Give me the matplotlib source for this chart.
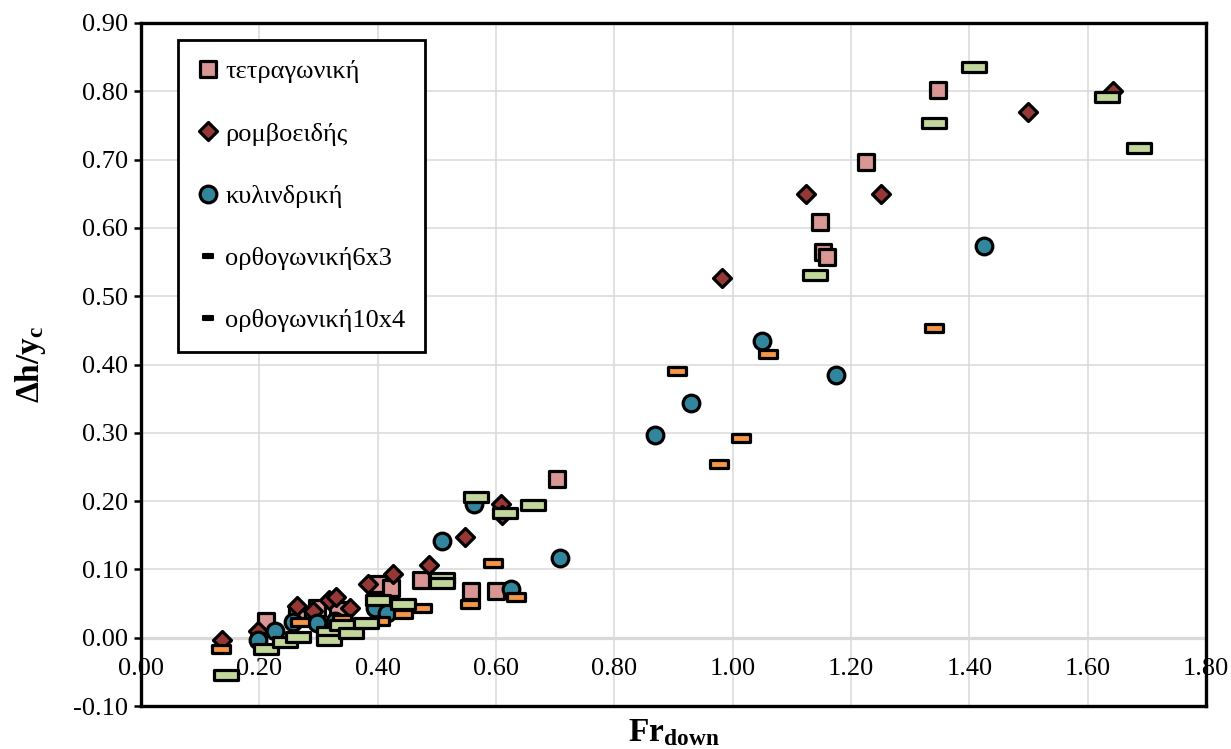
import matplotlib.pyplot as plt
import numpy as np
from matplotlib.path import Path
from matplotlib.markers import MarkerStyle
from matplotlib.lines import Line2D

plt.rcParams["font.family"] = ["Liberation Serif", "DejaVu Serif"]
plt.rcParams["mathtext.fontset"] = "custom"
plt.rcParams["mathtext.rm"] = "Liberation Serif"
plt.rcParams["mathtext.it"] = "Liberation Serif:italic"
plt.rcParams["mathtext.bf"] = "Liberation Serif:bold"

# Fr_down / dh/yc for each pier shape
fr_tetr = [0.212, 0.263, 0.297, 0.333, 0.401, 0.423, 0.473, 0.558, 0.600, 0.703,
           1.148, 1.153, 1.160, 1.225, 1.347]
dh_tetr = [0.024, 0.035, 0.044, 0.040, 0.079, 0.073, 0.084, 0.068, 0.068, 0.233,
           0.609, 0.565, 0.558, 0.697, 0.802]

fr_romv = [0.137, 0.198, 0.263, 0.290, 0.318, 0.330, 0.354, 0.383, 0.426, 0.486,
           0.547, 0.608, 0.610, 0.982, 1.124, 1.251, 1.499, 1.642]
dh_romv = [-0.003, 0.010, 0.047, 0.039, 0.055, 0.060, 0.044, 0.079, 0.094, 0.106,
           0.147, 0.196, 0.180, 0.526, 0.650, 0.650, 0.769, 0.800]

fr_kyl = [0.198, 0.226, 0.257, 0.297, 0.328, 0.395, 0.415, 0.509, 0.563, 0.625,
          0.708, 0.869, 0.929, 1.049, 1.175, 1.425]
dh_kyl = [-0.003, 0.010, 0.023, 0.022, 0.025, 0.043, 0.036, 0.141, 0.196, 0.071,
          0.117, 0.297, 0.343, 0.434, 0.385, 0.573]

fr_orth63 = [0.136, 0.268, 0.339, 0.404, 0.443, 0.475, 0.556, 0.595, 0.634, 0.906,
             0.977, 1.014, 1.060, 1.340]
dh_orth63 = [-0.016, 0.023, 0.028, 0.024, 0.035, 0.044, 0.050, 0.109, 0.059, 0.391,
             0.255, 0.292, 0.416, 0.454]

fr_orth104 = [0.143, 0.212, 0.243, 0.266, 0.318, 0.318, 0.340, 0.355, 0.380, 0.400,
              0.443, 0.508, 0.508, 0.566, 0.615, 0.663, 1.139, 1.340, 1.408, 1.633,
              1.687]
dh_orth104 = [-0.055, -0.017, -0.007, 0.001, 0.008, -0.003, 0.018, 0.007, 0.022, 0.055,
              0.050, 0.088, 0.080, 0.206, 0.182, 0.195, 0.531, 0.754, 0.835, 0.791,
              0.717]

labels = ["τετραγωνική", "ρομβοειδής", "κυλινδρική", "ορθογωνική6x3", "ορθογωνική10x4"]


def rect_marker(h):
    """flat rectangle marker, width 2 and height 2*h before scaling"""
    verts = [(-1, -h), (1, -h), (1, h), (-1, h), (-1, -h)]
    codes = [Path.MOVETO, Path.LINETO, Path.LINETO, Path.LINETO, Path.CLOSEPOLY]
    return MarkerStyle(Path(verts, codes), joinstyle="round")


sq = MarkerStyle("s", joinstyle="round")
dm = MarkerStyle("D", joinstyle="round")
ci = MarkerStyle("o")
r63 = rect_marker(0.42)
r104 = rect_marker(0.375)

fig = plt.figure(figsize=(12.31, 7.49), dpi=100)
ax = fig.add_axes([0.1145, 0.0574, 0.8652, 0.9119])

common = dict(linestyle="none", mec="black", mew=2.3, clip_on=False)
h1, = ax.plot(fr_tetr, dh_tetr, marker=sq, ms=11.6, mfc="#D99694", zorder=3, **common)
h2, = ax.plot(fr_romv, dh_romv, marker=dm, ms=9.0, mfc="#953735", zorder=4, **common)
h3, = ax.plot(fr_kyl, dh_kyl, marker=ci, ms=12.0, mfc="#31859C", zorder=5, **common)
ax.plot(fr_orth63, dh_orth63, marker=r63, ms=13.6, mfc="#F79646", zorder=6, **common)
ax.plot(fr_orth104, dh_orth104, marker=r104, ms=17.6, mfc="#C3D69B", zorder=7, **common)

ax.set_xlim(0, 1.8)
ax.set_ylim(-0.1, 0.9)
ax.set_xticks(np.round(np.arange(0, 1.81, 0.2), 2))
ax.set_yticks(np.round(np.arange(-0.1, 0.91, 0.1), 2))
ax.set_xticklabels([f"{v:.2f}" for v in ax.get_xticks()])
ax.set_yticklabels([f"{v:.2f}" for v in ax.get_yticks()])

ax.grid(True, color="#D9D9D9", lw=1.1)
ax.set_axisbelow(True)
# horizontal axis line at zero
ax.axhline(0, color="#D9D9D9", lw=2.3, zorder=1)

for sp in ax.spines.values():
    sp.set_color("black")
    sp.set_linewidth(2.4)

# x labels sit just below the zero line, not at the frame
ax.tick_params(axis="x", length=0, pad=-34.5, labelsize=19)
ax.tick_params(axis="y", direction="out", length=5, width=1.8, pad=4, labelsize=19)

ax.set_xlabel(r"$\mathbf{Fr_{down}}$", fontsize=24)
ax.xaxis.set_label_coords(0.5, -0.017)
ax.set_ylabel(r"$\mathbf{\Delta h/y_c}$", fontsize=24)
ax.yaxis.set_label_coords(-0.087, 0.5)

# legend: the two rectangle shapes show as small black dashes
p4 = Line2D([], [], linestyle="none", marker=rect_marker(0.4), ms=6.5,
            mfc="black", mec="black", mew=1.5)
p5 = Line2D([], [], linestyle="none", marker=rect_marker(0.4), ms=6.5,
            mfc="black", mec="black", mew=1.5)
leg = ax.legend([h1, h2, h3, p4, p5], labels, loc="upper left",
                bbox_to_anchor=(0.0347, 0.9751), borderaxespad=0,
                fontsize=19, frameon=True, fancybox=False, shadow=False,
                framealpha=1, edgecolor="black", handlelength=0.8,
                handletextpad=0.25, labelspacing=1.47, borderpad=0.75)
leg.get_frame().set_linewidth(2.0)
leg.set_zorder(10)

fig.savefig("out.png", dpi=100)
